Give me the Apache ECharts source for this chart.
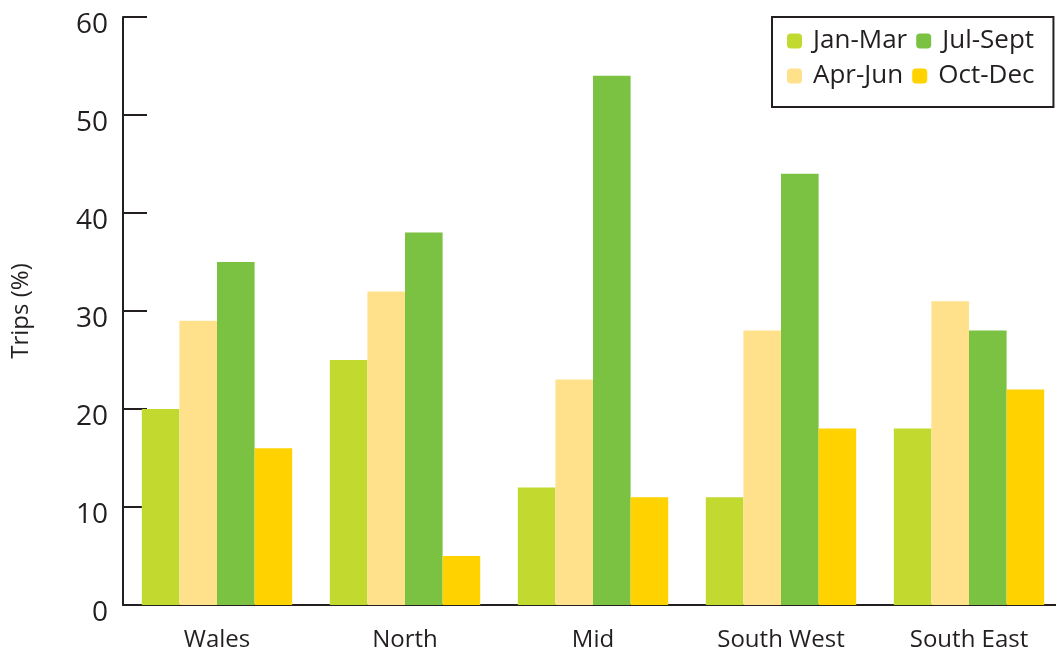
<!DOCTYPE html>
<html>
<head>
<meta charset="utf-8">
<script src="https://cdn.jsdelivr.net/npm/echarts@6/dist/echarts.min.js"></script>
<style>
  html, body { margin: 0; padding: 0; background: #fff; }
  #chart { width: 1056px; height: 653px; }
</style>
</head>
<body>
<div id="chart"></div>
<script>
// Share of trips by quarter for each region
const regions = ['Wales', 'North', 'Mid', 'South West', 'South East'];
const janMar  = [20, 25, 12, 11, 18];
const aprJun  = [29, 32, 23, 28, 31];
const julSept = [35, 38, 54, 44, 28];
const octDec  = [16, 5, 11, 18, 22];
const yTicks  = [0, 10, 20, 30, 40, 50, 60];

const FONT = 'Open Sans';
const INK = '#231f20';

const seriesDefs = [
  { name: 'Jan-Mar',  data: janMar,  color: '#c2d92f' },
  { name: 'Apr-Jun',  data: aprJun,  color: '#fee18a' },
  { name: 'Jul-Sept', data: julSept, color: '#7cc242' },
  { name: 'Oct-Dec',  data: octDec,  color: '#ffd200' }
];

const chart = echarts.init(document.getElementById('chart'), null, { renderer: 'canvas' });

chart.setOption({
  animation: false,
  backgroundColor: '#fff',
  textStyle: { fontFamily: FONT, color: INK },
  grid: {
    left: 123, top: 17, width: 940, height: 588,
    containLabel: false,
    outerBoundsMode: 'none'
  },
  legend: {
    data: ['Jan-Mar', 'Jul-Sept', 'Apr-Jun', 'Oct-Dec'],
    left: 772,
    top: 17,
    width: 262,
    orient: 'horizontal',
    padding: [11, 19, 18, 15],
    itemGap: 9,
    itemWidth: 15,
    itemHeight: 15,
    borderColor: INK,
    borderWidth: 2,
    backgroundColor: '#fff',
    textStyle: {
      fontFamily: FONT, fontSize: 26, color: INK,
      width: 101, padding: [0, 0, 0, 6]
    }
  },
  xAxis: {
    type: 'category',
    data: regions,
    axisLine: { lineStyle: { color: INK, width: 2 } },
    axisTick: { inside: true, length: 14, lineStyle: { color: INK, width: 2 } },
    axisLabel: { fontFamily: FONT, fontSize: 24, color: INK, margin: 23 }
  },
  yAxis: {
    type: 'value',
    min: yTicks[0],
    max: yTicks[yTicks.length - 1],
    interval: 10,
    name: 'Trips (%)',
    nameLocation: 'middle',
    nameGap: 90,
    nameTextStyle: { fontFamily: FONT, fontSize: 24, color: INK },
    splitLine: { show: false },
    axisLine: { show: true, lineStyle: { color: INK, width: 2 } },
    axisTick: { show: true, inside: true, length: 24, lineStyle: { color: INK, width: 2 } },
    axisLabel: {
      fontFamily: FONT, fontSize: 28, color: INK, margin: 15,
      verticalAlign: 'top', lineHeight: 16
    }
  },
  series: seriesDefs.map(s => ({
    name: s.name,
    type: 'bar',
    data: s.data,
    barGap: '0%',
    barCategoryGap: '20%',
    itemStyle: { color: s.color },
    z: 1
  }))
});
</script>
</body>
</html>
